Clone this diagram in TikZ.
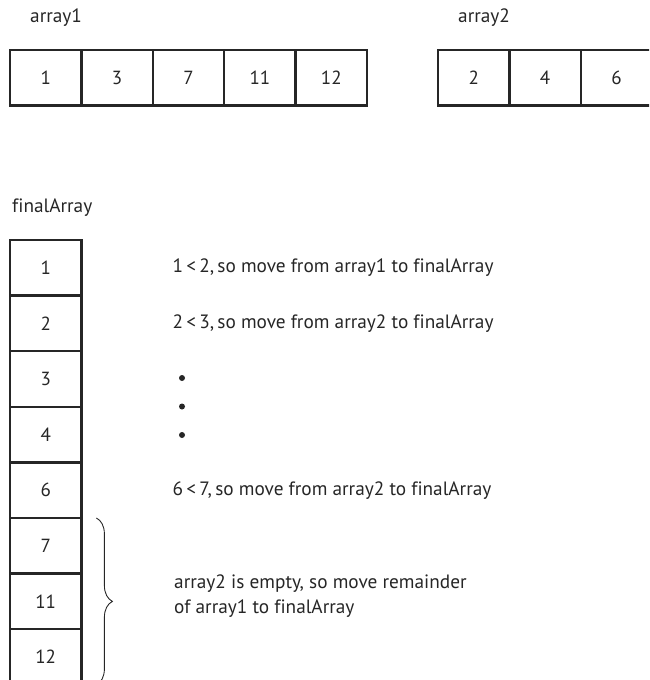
\documentclass[tikz,border=0pt]{standalone}
\usepackage{fontspec}
\setmainfont{PT Sans}[Ligatures=NoCommon]
\usepackage{tikz}
\usetikzlibrary{positioning, decorations.pathreplacing}

\begin{document}
\begin{tikzpicture}[x=1pt, y=-1pt,
  c/.style={draw=black!85, line width=2.4pt, minimum width=71.4pt, minimum height=55.6pt,
    inner sep=0pt, outer sep=0pt, text=black!85, font=\fontsize{19}{22}\selectfont},
  l/.style={anchor=west, inner sep=0pt, align=left, text=black!85, font=\fontsize{19.3}{24.5}\selectfont},
  d/.style={circle, fill=black!85, inner sep=0pt, minimum size=6pt}]
  \useasboundingbox (0,0) rectangle (649,680);
  \clip (0,0) rectangle (649,680);
  % the two sorted input arrays
  \node[l] (lab1) at (30,18) {array1};
  \node[c] (a1) at (45.7,77.5) {1};
  \node[c, right=0pt of a1] (a3) {3};
  \node[c, right=0pt of a3] (a7) {7};
  \node[c, right=0pt of a7] (a11) {11};
  \node[c, right=0pt of a11] (a12) {12};
  \node[l] (lab2) at (458,18) {array2};
  \node[c] (b2) at (473.7,77.5) {2};
  \node[c, right=0pt of b2] (b4) {4};
  \node[c, right=0pt of b4] (b6) {6};
  % merged result
  \node[l] (lab3) at (12,208) {finalArray};
  \node[c] (f1) at (45.7,267.8) {1};
  \node[c, below=0pt of f1] (f2) {2};
  \node[c, below=0pt of f2] (f3) {3};
  \node[c, below=0pt of f3] (f4) {4};
  \node[c, below=0pt of f4] (f6) {6};
  \node[c, below=0pt of f6] (f7) {7};
  \node[c, below=0pt of f7] (f11) {11};
  \node[c, below=0pt of f11] (f12) {12};
  % notes on each step
  \node[l, right=91pt of f1] (s1) {1\,<\,2,\,so move from array1 to finalArray};
  \node[l, right=91pt of f2] (s2) {2\,<\,3,\,so move from array2 to finalArray};
  \node[d] (dot1) at (182,378) {};
  \node[d] (dot2) at (182,406.5) {};
  \node[d] (dot3) at (182,435) {};
  \node[l, right=91pt of f6] (s6) {6\,<\,7,\,so move from array2 to finalArray};
  \node[l] (rest) at (174,596) {array2 is empty, so move remainder\\of array1 to finalArray};
  \draw[black!85, line width=0.9pt, decorate, decoration={brace, amplitude=16pt}]
    ([xshift=15pt]f7.north east) -- ([xshift=15pt]f12.south east);
\end{tikzpicture}
\end{document}
